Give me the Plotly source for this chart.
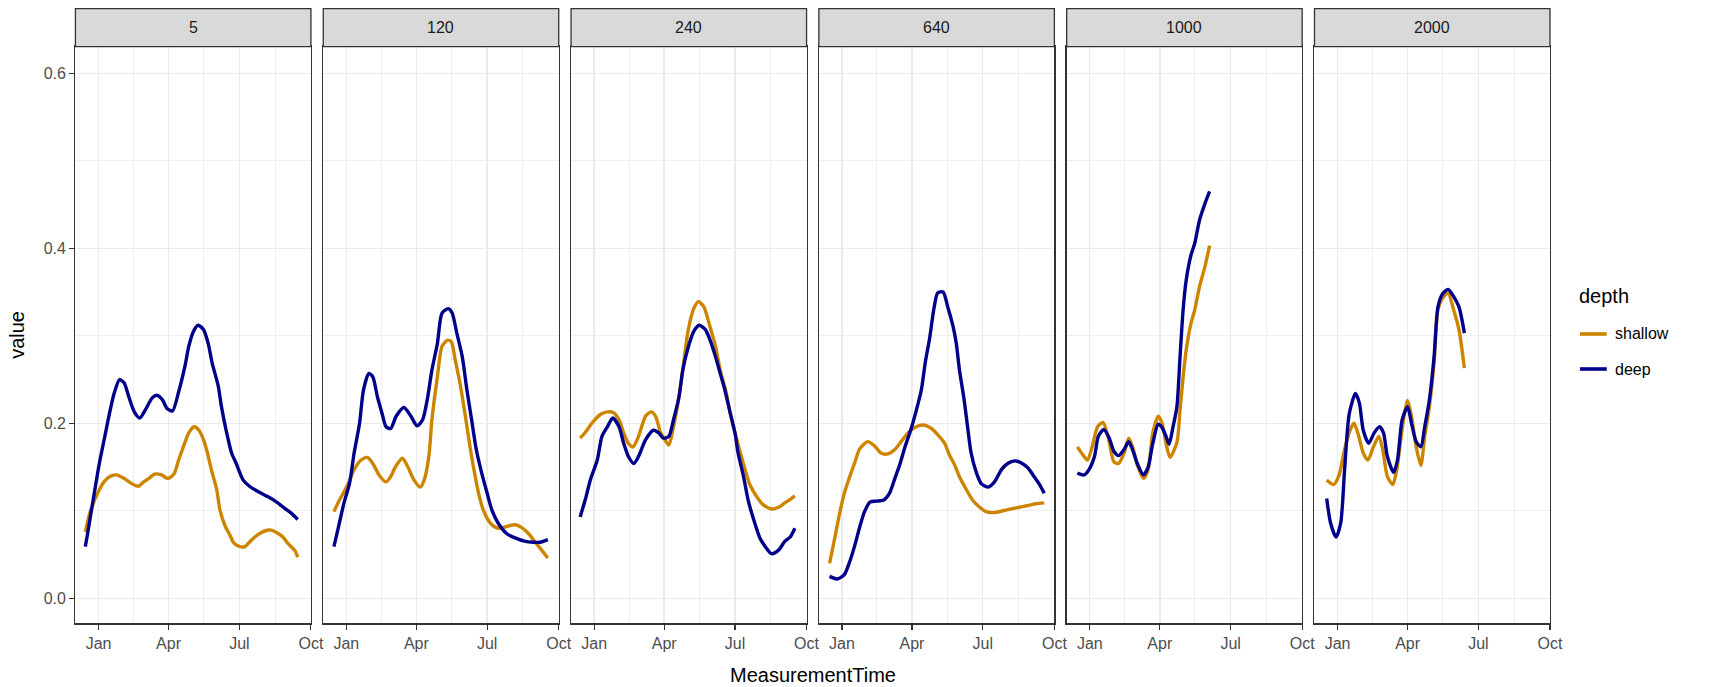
import pandas as pd
import plotly.graph_objects as go

# ---------------- data (x = days relative to 2019-01-01) ----------------
panels = ["5", "120", "240", "640", "1000", "2000"]
series_names = ["shallow", "deep"]
series_colors = ["#CD8500", "#00008B"]

p5_shallow_day = [-17, -10, 1, 7, 14, 23, 33, 43, 51, 58, 66, 72, 81, 89, 97, 103, 109, 116, 123, 129, 135, 140, 145, 152, 156, 163, 169, 174, 182, 188, 197, 207, 218, 222, 231, 237, 243, 252, 256]
p5_shallow_val = [0.076, 0.101, 0.124, 0.133, 0.139, 0.141, 0.137, 0.131, 0.128, 0.133, 0.138, 0.142, 0.141, 0.137, 0.142, 0.158, 0.173, 0.189, 0.196, 0.192, 0.181, 0.166, 0.147, 0.124, 0.101, 0.082, 0.072, 0.063, 0.059, 0.059, 0.067, 0.074, 0.078, 0.078, 0.074, 0.070, 0.063, 0.055, 0.047]
p5_deep_day = [-17, -14, -5.5, 1, 9, 14, 20, 27, 33, 39, 46, 53, 60, 69, 75, 82, 88, 95, 103, 111, 116, 122, 128, 135, 141, 146, 154, 158, 164, 171, 177, 186, 194, 205, 218, 229, 239, 248, 256]
p5_deep_val = [0.059, 0.074, 0.120, 0.154, 0.189, 0.211, 0.234, 0.250, 0.246, 0.230, 0.213, 0.206, 0.215, 0.229, 0.232, 0.227, 0.217, 0.214, 0.236, 0.265, 0.288, 0.305, 0.312, 0.307, 0.291, 0.269, 0.242, 0.219, 0.192, 0.166, 0.154, 0.135, 0.128, 0.122, 0.116, 0.110, 0.103, 0.097, 0.090]

p120_shallow_day = [-16, -9, 2, 10, 19, 27, 34, 42, 51, 57, 63, 72, 78, 87, 95, 100, 106, 110, 117, 123, 130, 135, 140, 146, 153, 159, 164, 170, 176, 185, 195, 206, 217, 225, 234, 242, 251, 259]
p120_shallow_val = [0.099, 0.112, 0.130, 0.147, 0.158, 0.161, 0.154, 0.141, 0.133, 0.139, 0.150, 0.160, 0.152, 0.135, 0.127, 0.135, 0.162, 0.204, 0.253, 0.288, 0.295, 0.293, 0.272, 0.246, 0.208, 0.173, 0.147, 0.120, 0.101, 0.086, 0.080, 0.082, 0.084, 0.081, 0.074, 0.065, 0.055, 0.046]
p120_deep_day = [-16, -10, -3, 4, 10, 17, 22, 29, 34, 40, 46, 51, 57, 64, 74, 83, 91, 98, 104, 110, 117, 123, 131, 136, 142, 149, 155, 161, 167, 174, 181, 187, 195, 206, 217, 230, 240, 249, 259]
p120_deep_val = [0.059, 0.082, 0.109, 0.131, 0.166, 0.200, 0.238, 0.257, 0.253, 0.230, 0.211, 0.196, 0.194, 0.208, 0.218, 0.208, 0.197, 0.204, 0.227, 0.261, 0.291, 0.326, 0.331, 0.326, 0.303, 0.276, 0.238, 0.204, 0.170, 0.143, 0.120, 0.101, 0.086, 0.074, 0.069, 0.065, 0.064, 0.064, 0.067]

p240_shallow_day = [-18, -11, -3, 8, 17, 25, 32, 38, 44, 50, 57, 66, 73, 79, 85, 91, 96, 102, 109, 115, 121, 128, 134, 141, 149, 156, 162, 170, 175, 181, 188, 194, 200, 209, 217, 228, 237, 245, 252, 258]
p240_shallow_val = [0.183, 0.190, 0.200, 0.210, 0.213, 0.212, 0.204, 0.189, 0.177, 0.173, 0.185, 0.208, 0.213, 0.208, 0.190, 0.181, 0.175, 0.196, 0.230, 0.269, 0.307, 0.331, 0.339, 0.333, 0.310, 0.288, 0.261, 0.234, 0.211, 0.189, 0.166, 0.147, 0.130, 0.116, 0.107, 0.102, 0.104, 0.109, 0.113, 0.117]
p240_deep_day = [-18, -11, -5, 4, 10, 17, 24, 32, 38, 44, 51, 57, 66, 76, 83, 89, 96, 102, 109, 114, 120, 128, 135, 143, 149, 156, 162, 168, 174, 181, 185, 192, 198, 205, 213, 220, 228, 237, 245, 252, 258]
p240_deep_val = [0.093, 0.114, 0.135, 0.158, 0.185, 0.196, 0.206, 0.196, 0.177, 0.162, 0.154, 0.162, 0.181, 0.192, 0.189, 0.183, 0.185, 0.204, 0.230, 0.261, 0.284, 0.305, 0.312, 0.307, 0.295, 0.276, 0.257, 0.238, 0.215, 0.189, 0.166, 0.139, 0.112, 0.090, 0.069, 0.059, 0.051, 0.055, 0.065, 0.070, 0.080]

p640_shallow_day = [-16, -9, -3, 3, 10, 16, 23, 33, 42, 50, 59, 68, 76, 85, 93, 104, 115, 123, 132, 138, 145, 151, 160, 168, 177, 185, 196, 207, 217, 228, 239, 249, 260]
p640_shallow_val = [0.040, 0.070, 0.097, 0.120, 0.139, 0.154, 0.171, 0.179, 0.174, 0.166, 0.165, 0.170, 0.179, 0.189, 0.195, 0.198, 0.194, 0.187, 0.177, 0.164, 0.152, 0.139, 0.124, 0.112, 0.104, 0.099, 0.098, 0.100, 0.102, 0.104, 0.106, 0.108, 0.109]
p640_deep_day = [-16, -6, 3, 10, 16, 23, 29, 36, 44, 53, 61, 68, 74, 81, 89, 95, 102, 107, 113, 118, 123, 130, 136, 143, 147, 151, 157, 162, 166, 173, 179, 188, 196, 205, 213, 222, 230, 239, 247, 254, 260]
p640_deep_val = [0.025, 0.022, 0.027, 0.042, 0.059, 0.082, 0.099, 0.110, 0.111, 0.112, 0.120, 0.137, 0.152, 0.173, 0.194, 0.213, 0.238, 0.269, 0.299, 0.330, 0.349, 0.350, 0.333, 0.310, 0.291, 0.261, 0.227, 0.192, 0.166, 0.143, 0.131, 0.127, 0.133, 0.147, 0.154, 0.157, 0.155, 0.149, 0.139, 0.130, 0.120]

p1000_shallow_day = [-16, -9, -3, 3, 10, 17, 24, 31, 37, 44, 50, 55, 62, 69, 75, 81, 88, 93, 98, 103, 112, 116, 120, 124, 130, 135, 141, 148, 154]
p1000_shallow_val = [0.173, 0.164, 0.158, 0.173, 0.196, 0.201, 0.183, 0.156, 0.154, 0.166, 0.183, 0.173, 0.150, 0.137, 0.147, 0.189, 0.208, 0.200, 0.177, 0.161, 0.178, 0.215, 0.253, 0.284, 0.314, 0.330, 0.356, 0.379, 0.403]
p1000_deep_day = [-16, -7, -1, 6, 11, 18, 25, 31, 37, 44, 50, 55, 61, 69, 75, 81, 88, 93, 98, 102, 107, 112, 116, 120, 124, 130, 135, 141, 148, 154]
p1000_deep_val = [0.143, 0.141, 0.147, 0.162, 0.185, 0.193, 0.183, 0.168, 0.163, 0.170, 0.179, 0.170, 0.154, 0.141, 0.150, 0.177, 0.199, 0.195, 0.185, 0.176, 0.196, 0.219, 0.276, 0.330, 0.364, 0.392, 0.406, 0.432, 0.451, 0.465]

p2000_shallow_day = [-14, -5, 2, 9, 16, 21, 26, 33, 39, 46, 53, 58, 64, 71, 76, 84, 90, 95, 101, 107, 112, 118, 124, 129, 135, 142, 149, 156, 163]
p2000_shallow_val = [0.135, 0.130, 0.141, 0.170, 0.192, 0.200, 0.189, 0.166, 0.158, 0.173, 0.185, 0.170, 0.139, 0.130, 0.147, 0.200, 0.226, 0.208, 0.173, 0.152, 0.185, 0.219, 0.269, 0.330, 0.343, 0.349, 0.330, 0.307, 0.263]
p2000_deep_day = [-14, -9, -2, 4, 9, 15, 23, 28, 33, 40, 47, 54, 59, 64, 72, 77, 83, 90, 95, 101, 107, 112, 118, 124, 129, 135, 142, 149, 156, 163]
p2000_deep_val = [0.114, 0.086, 0.070, 0.086, 0.147, 0.211, 0.234, 0.223, 0.192, 0.177, 0.189, 0.196, 0.189, 0.162, 0.144, 0.158, 0.204, 0.219, 0.200, 0.179, 0.173, 0.196, 0.227, 0.276, 0.333, 0.348, 0.353, 0.345, 0.333, 0.303]

tick_days = [0, 90, 181, 273]
tick_labels = ["Jan", "Apr", "Jul", "Oct"]
minor_days = [45, 135, 227]
y_ticks = [0.0, 0.2, 0.4, 0.6]
y_tick_labels = ["0.0", "0.2", "0.4", "0.6"]
y_minor = [0.1, 0.3, 0.5]

panel_data = [
    [(p5_shallow_day, p5_shallow_val), (p5_deep_day, p5_deep_val)],
    [(p120_shallow_day, p120_shallow_val), (p120_deep_day, p120_deep_val)],
    [(p240_shallow_day, p240_shallow_val), (p240_deep_day, p240_deep_val)],
    [(p640_shallow_day, p640_shallow_val), (p640_deep_day, p640_deep_val)],
    [(p1000_shallow_day, p1000_shallow_val), (p1000_deep_day, p1000_deep_val)],
    [(p2000_shallow_day, p2000_shallow_val), (p2000_deep_day, p2000_deep_val)],
]

base = pd.Timestamp("2019-01-01")


def to_dates(days):
    return [(base + pd.Timedelta(days=float(d))).strftime("%Y-%m-%d %H:%M") for d in days]


# ---------------- layout geometry (pixels) ----------------
W, H = 1719, 687
left0, step, pw = 76.0, 249.7, 237.3
y_bot, y_top, strip_top = 623.3, 46.7, 8.7
x_range = to_dates([-29.7, 273])
y_range = [-0.0286, 0.6304]

FONT = "Liberation Sans, Arial, sans-serif"
BORDER = "#333333"
GRID = "#EBEBEB"
TICK_SIZE = 16
TITLE_SIZE = 20


def px(x):
    return x / W


def py(y):
    return (H - y) / H


fig = go.Figure()
layout = dict(
    width=W, height=H,
    margin=dict(l=0, r=0, t=0, b=0),
    paper_bgcolor="white", plot_bgcolor="white",
    font=dict(family=FONT, color="#1A1A1A"),
    showlegend=False,
)

shapes = []
annotations = []
for i, name in enumerate(panels):
    sfx = "" if i == 0 else str(i + 1)
    xl = left0 + i * step
    xr = xl + pw
    layout["xaxis" + sfx] = dict(
        domain=[px(xl), px(xr)], anchor="y" + sfx, type="date", range=x_range,
        tickmode="array", tickvals=to_dates(tick_days), ticktext=tick_labels,
        ticks="outside", ticklen=5, tickwidth=1.1, tickcolor=BORDER,
        tickfont=dict(size=TICK_SIZE, color="#4D4D4D", family=FONT),
        showgrid=True, gridcolor=GRID, gridwidth=1.4,
        minor=dict(tickvals=to_dates(minor_days), showgrid=True, gridcolor=GRID, gridwidth=0.8, ticks=""),
        showline=True, linecolor=BORDER, linewidth=1.3, mirror=True,
        zeroline=False, fixedrange=True,
    )
    layout["yaxis" + sfx] = dict(
        domain=[py(y_bot), py(y_top)], anchor="x" + sfx, range=y_range,
        tickmode="array", tickvals=y_ticks, ticktext=y_tick_labels,
        ticks="outside" if i == 0 else "", ticklen=5, tickwidth=1.1, tickcolor=BORDER,
        showticklabels=(i == 0),
        tickfont=dict(size=TICK_SIZE, color="#4D4D4D", family=FONT),
        showgrid=True, gridcolor=GRID, gridwidth=1.4,
        minor=dict(tickvals=y_minor, showgrid=True, gridcolor=GRID, gridwidth=0.8, ticks=""),
        showline=True, linecolor=BORDER, linewidth=1.3, mirror=True,
        zeroline=False, fixedrange=True,
    )
    # facet strip
    shapes.append(dict(
        type="rect", xref="paper", yref="paper",
        x0=px(xl), x1=px(xr), y0=py(y_top), y1=py(strip_top),
        fillcolor="#D9D9D9", line=dict(color=BORDER, width=1.3), layer="above",
    ))
    annotations.append(dict(
        text=name, xref="paper", yref="paper",
        x=px((xl + xr) / 2), y=py((y_top + strip_top) / 2),
        showarrow=False, xanchor="center", yanchor="middle",
        font=dict(size=TICK_SIZE, color="#1A1A1A", family=FONT),
    ))
    for j, (days, vals) in enumerate(panel_data[i]):
        fig.add_trace(go.Scatter(
            x=to_dates(days), y=vals, mode="lines",
            line=dict(color=series_colors[j], width=3.4, shape="spline", smoothing=0.7),
            name=series_names[j], legendgroup=series_names[j], showlegend=False,
            xaxis="x" + sfx, yaxis="y" + sfx, hoverinfo="skip",
        ))

# legend (drawn as keys + labels)
annotations.append(dict(
    text="depth", xref="paper", yref="paper", x=px(1589), y=py(296),
    showarrow=False, xanchor="left", yanchor="middle",
    font=dict(size=TITLE_SIZE, color="#000000", family=FONT),
))
legend_y = [334, 369]
for j, nm in enumerate(series_names):
    shapes.append(dict(
        type="line", xref="paper", yref="paper",
        x0=px(1592), x1=px(1619), y0=py(legend_y[j]), y1=py(legend_y[j]),
        line=dict(color=series_colors[j], width=3.6),
    ))
    annotations.append(dict(
        text=nm, xref="paper", yref="paper", x=px(1625), y=py(legend_y[j]),
        showarrow=False, xanchor="left", yanchor="middle",
        font=dict(size=TICK_SIZE, color="#000000", family=FONT),
    ))

# axis titles
annotations.append(dict(
    text="MeasurementTime", xref="paper", yref="paper",
    x=px((left0 + 5 * step + pw + left0) / 2), y=py(675),
    showarrow=False, xanchor="center", yanchor="middle",
    font=dict(size=TITLE_SIZE, color="#000000", family=FONT),
))
annotations.append(dict(
    text="value", xref="paper", yref="paper",
    x=px(17), y=py((y_bot + y_top) / 2), textangle=-90,
    showarrow=False, xanchor="center", yanchor="middle",
    font=dict(size=TITLE_SIZE, color="#000000", family=FONT),
))

layout["shapes"] = shapes
layout["annotations"] = annotations
fig.update_layout(**layout)
fig.write_html(
    "out.html",
    config={"displayModeBar": False, "staticPlot": True},
    post_script="document.body.style.margin='0';document.body.style.overflow='hidden';",
)
